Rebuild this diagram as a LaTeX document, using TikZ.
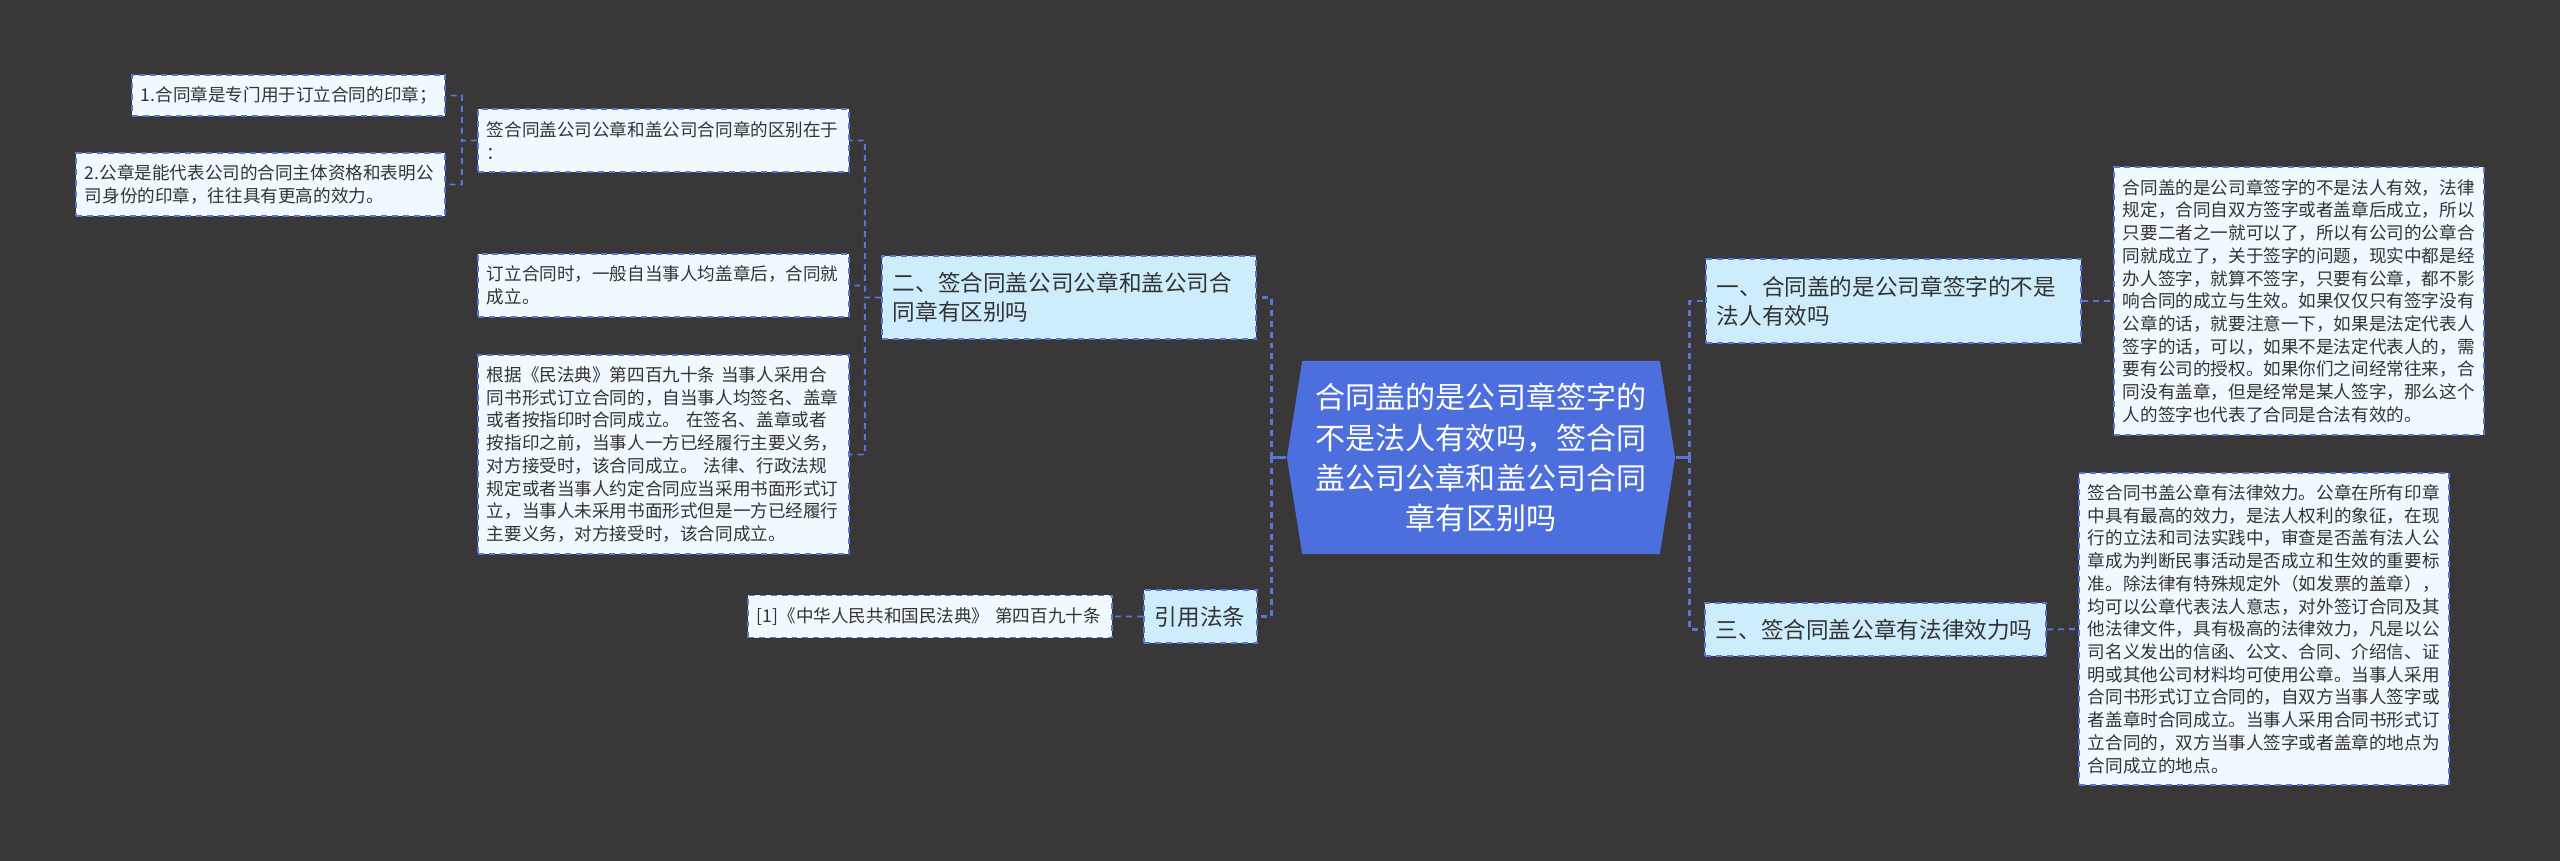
\documentclass[tikz,border=0pt]{standalone}
\usepackage{fontspec}
\setmainfont{Noto Sans CJK SC}
\usetikzlibrary{shapes.symbols}

\definecolor{bgcol}{HTML}{393737}
\definecolor{linkblue}{HTML}{5676D8}
\definecolor{mainblue}{HTML}{4D6EDD}
\definecolor{branchfill}{HTML}{CDEDFC}
\definecolor{leaffill}{HTML}{F0FAFE}
\definecolor{textcol}{HTML}{333333}

\begin{document}
\begin{tikzpicture}[x=0.01cm,y=-0.01cm,
  link/.style={draw=linkblue,line width=0.55pt,dash pattern=on 1.7pt off 1.4pt},
  main link/.style={link,line width=0.8pt},
  box/.style={draw=linkblue,line width=0.55pt,dash pattern=on 1.7pt off 1.4pt,
    align=left,inner xsep=0.09cm,inner ysep=0pt,text=textcol},
  leaf node/.style={box,fill=leaffill,font=\fontsize{5pt}{6.46pt}\selectfont},
  branch node/.style={box,fill=branchfill,inner xsep=0.11cm,
    font=\fontsize{6.43pt}{8.25pt}\selectfont},
  main node/.style={signal,signal to=east and west,signal pointer angle=162,
    fill=mainblue,text=white,align=center,inner sep=0pt,
    font=\fontsize{8.54pt}{11.4pt}\selectfont}]

  \fill[bgcol] (0,0) rectangle (2560,861);
  \useasboundingbox (0,0) rectangle (2560,861);

  % centre
  \node[main node,text width=3.4cm,minimum width=3.88cm,minimum height=1.93cm] (main) at (1481,457.5)
    {合同盖的是公司章签字的\\不是法人有效吗，签合同\\盖公司公章和盖公司合同\\章有区别吗};

  % right side
  \node[branch node,text width=3.53cm,minimum height=0.84cm] (b1) at (1893.5,301)
    {一、合同盖的是公司章签字的不是\\法人有效吗};
  \node[leaf node,text width=3.52cm,minimum height=2.68cm] (d1) at (2299,301)
    {合同盖的是公司章签字的不是法人有效，法律\\规定，合同自双方签字或者盖章后成立，所以\\只要二者之一就可以了，所以有公司的公章合\\同就成立了，关于签字的问题，现实中都是经\\办人签字，就算不签字，只要有公章，都不影\\响合同的成立与生效。如果仅仅只有签字没有\\公章的话，就要注意一下，如果是法定代表人\\签字的话，可以，如果不是法定代表人的，需\\要有公司的授权。如果你们之间经常往来，合\\同没有盖章，但是经常是某人签字，那么这个\\人的签字也代表了合同是合法有效的。};
  \node[branch node,text width=3.19cm,minimum height=0.53cm] (b3) at (1875.5,629.5)
    {三、签合同盖公章有法律效力吗};
  \node[leaf node,text width=3.52cm,minimum height=3.12cm] (d3) at (2264,629)
    {签合同书盖公章有法律效力。公章在所有印章\\中具有最高的效力，是法人权利的象征，在现\\行的立法和司法实践中，审查是否盖有法人公\\章成为判断民事活动是否成立和生效的重要标\\准。除法律有特殊规定外（如发票的盖章），\\均可以公章代表法人意志，对外签订合同及其\\他法律文件，具有极高的法律效力，凡是以公\\司名义发出的信函、公文、合同、介绍信、证\\明或其他公司材料均可使用公章。当事人采用\\合同书形式订立合同的，自双方当事人签字或\\者盖章时合同成立。当事人采用合同书形式订\\立合同的，双方当事人签字或者盖章的地点为\\合同成立的地点。};

  % left side
  \node[branch node,text width=3.52cm,minimum height=0.83cm] (b2) at (1069,297.5)
    {二、签合同盖公司公章和盖公司合\\同章有区别吗};
  \node[leaf node,text width=3.53cm,minimum height=0.63cm] (s2) at (663.5,140.5)
    {签合同盖公司公章和盖公司合同章的区别在于\\：};
  \node[leaf node,text width=2.95cm,minimum height=0.41cm] (l1) at (288.5,95.5)
    {1.合同章是专门用于订立合同的印章；};
  \node[leaf node,text width=3.51cm,minimum height=0.63cm] (l2) at (260.5,184.5)
    {2.公章是能代表公司的合同主体资格和表明公\\司身份的印章，往往具有更高的效力。};
  \node[leaf node,text width=3.53cm,minimum height=0.63cm] (l3) at (663.5,285.5)
    {订立合同时，一般自当事人均盖章后，合同就\\成立。};
  \node[leaf node,text width=3.53cm,minimum height=1.99cm] (l4) at (663.5,454.5)
    {根据《民法典》第四百九十条 当事人采用合\\同书形式订立合同的，自当事人均签名、盖章\\或者按指印时合同成立。 在签名、盖章或者\\按指印之前，当事人一方已经履行主要义务，\\对方接受时，该合同成立。 法律、行政法规\\规定或者当事人约定合同应当采用书面形式订\\立，当事人未采用书面形式但是一方已经履行\\主要义务，对方接受时，该合同成立。};
  \node[branch node,text width=0.91cm,minimum height=0.53cm] (cite) at (1200.5,616.5)
    {引用法条};
  \node[leaf node,text width=3.46cm,minimum height=0.42cm] (c1) at (930,616.5)
    {[1]《中华人民共和国民法典》 第四百九十条};

  % connectors
  \draw[draw=linkblue,line width=0.8pt]
    (main.east) -- ++(14,0)
    (main.west) -- ++(-15,0);
  \draw[main link]
    (main.east) ++(14,0) |- (b1.west)
    (main.east) ++(14,0) |- (b3.west)
    (main.west) ++(-15,0) |- (b2.east)
    (main.west) ++(-15,0) |- (cite.east);
  \draw[link]
    (b1.east) -- (d1.west)
    (b3.east) -- (d3.west)
    (cite.west) -- (c1.east)
    (b2.west) -- ++(-16,0) |- (s2.east)
    (b2.west) -- ++(-16,0) |- (l3.east)
    (b2.west) -- ++(-16,0) |- (l4.east)
    (s2.west) -- ++(-15,0) |- (l1.east)
    (s2.west) -- ++(-15,0) |- (l2.east);
\end{tikzpicture}
\end{document}
